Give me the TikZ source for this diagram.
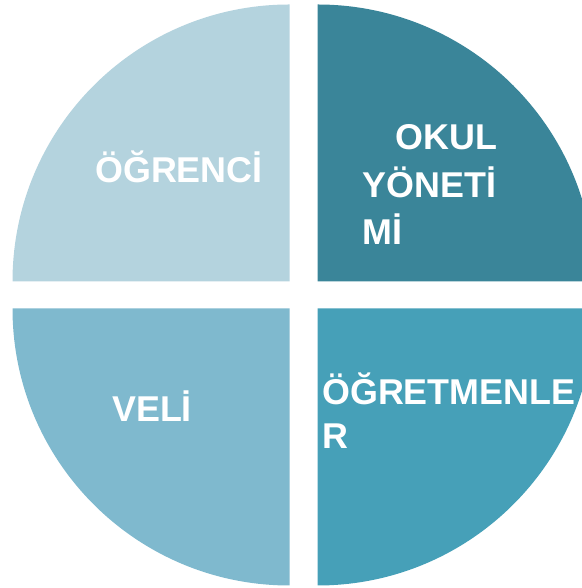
\documentclass[tikz,border=0pt]{standalone}
\usepackage{fontspec}
\setmainfont{Liberation Sans}
\definecolor{ogrenciclr}{HTML}{B4D3DE}
\definecolor{okulclr}{HTML}{3A8599}
\definecolor{veliclr}{HTML}{7FB9CE}
\definecolor{ogretmenclr}{HTML}{46A0B8}
\begin{document}
\begin{tikzpicture}[x=1bp,y=1bp,
    lbl/.style={text=white,inner sep=0pt,anchor=base west,align=left,
      font=\fontsize{36}{48}\selectfont\bfseries}]
  % Frame
  \useasboundingbox (0,0) rectangle (582,588);
  \clip (0,0) rectangle (582,588);

  % Quarters of the circle
  \fill[ogrenciclr] (289.5,306.5) -- ++(0,277) arc[start angle=90,end angle=180,radius=277] -- cycle;
  \fill[okulclr] (317.5,306.5) -- ++(277,0) arc[start angle=0,end angle=90,radius=277] -- cycle;
  \fill[veliclr] (289.5,279.5) -- ++(-277,0) arc[start angle=180,end angle=270,radius=277] -- cycle;
  \fill[ogretmenclr] (317.5,279.5) -- ++(0,-277) arc[start angle=270,end angle=360,radius=277] -- cycle;

  % Labels (base = last line)
  \node[lbl] (ogrenci) at (95,405) {ÖĞRENCİ};
  \node[lbl] (okul) at (362.5,343) {\hspace*{33bp}OKUL\\YÖNETİ\\Mİ};
  \node[lbl] (veli) at (112,166.5) {VELİ};
  \node[lbl,font=\fontsize{36}{45}\selectfont\bfseries] (ogretmen) at (322,139) {ÖĞRETMENLE\\R};
\end{tikzpicture}
\end{document}
